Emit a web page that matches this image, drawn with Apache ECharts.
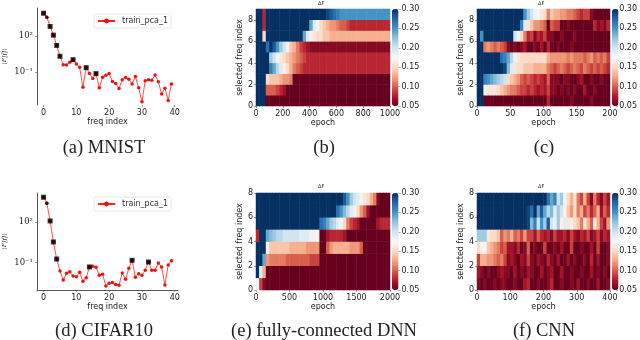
<!DOCTYPE html>
<html>
<head>
<meta charset="utf-8">
<style>
html,body{margin:0;padding:0;background:#fff}
#chart{width:640px;height:340px;filter:blur(0.5px)}
</style>
<script src="https://cdn.jsdelivr.net/npm/echarts@6/dist/echarts.min.js"></script>
</head>
<body>
<div id="chart"></div>
<script>
const freqIndex = [0,1,2,3,4,5,6,7,8,9,10,11,12,13,14,15,16,17,18,19,20,21,22,23,24,25,26,27,28,29,30,31,32,33,34,35,36,37,38,39];
const mnistValues = [7500,3500,600,114,16,2,0.4,0.38,0.63,1.05,0.46,0.243,0.0054,0.228,0.073,0.028,0.073,0.0048,0.036,0.053,0.073,0.016,0.011,0.0042,0.022,0.034,0.025,0.01,0.041,0.0048,0.00033,0.019,0.023,0.02,0.056,0.015,0.0015,0.0045,0.00043,0.01];
const cifarValues = [7240,2590,126,3.45,0.187,0.024,0.0051,0.016,0.021,0.0102,0.0091,0.019,0.0041,0.0077,0.048,0.053,0.045,0.0114,0.0136,0.00184,0.0029,0.0033,0.0024,0.0021,0.017,0.0058,0.038,0.149,0.0081,0.0152,0.0114,0.027,0.112,0.027,0.027,0.094,0.048,0.0022,0.067,0.141];
const mnistPeaks = [0,2,3,4,5,9,13,16];
const cifarPeaks = [0,2,3,4,14,27,32];
const darkPoints = [1];
const freqTicks = [0,10,20,30,40];
const logTicks = [0.1,100];

// heat values in hundredths, row 0 is the bottom row
const dnnB = [
[30,30,30,5,5,5,5,5,5,5,5,5,5,5,5,5,5,5,5,5,5,5,5,5,5,5,5,5,5,5,5,5,5,5,5,5,5,5,5,5],
[30,30,30,10,10,10,9,8,7,5,5,5,5,5,5,5,5,5,5,5,5,5,5,5,5,5,5,5,5,5,5,5,5,5,5,5,5,5,5,5],
[30,30,30,15,14,14,14,13,12,12,11,5,5,5,5,5,5,5,5,5,5,5,5,5,5,5,5,5,5,5,5,5,5,5,5,5,5,5,5,5],
[30,30,30,30,26,24,21,19,17,15,13,11,10,9,8,8,8,8,8,8,8,8,8,8,8,8,8,8,8,8,8,8,8,8,8,8,8,8,8,8],
[30,30,30,30,22,20,18,16,15,14,13,12,11,10,9,8,8,8,8,8,8,8,8,8,8,8,8,8,8,8,8,8,8,8,8,8,8,8,8,8],
[30,30,30,27,30,28,25,22,20,18,14,13,11,9,8,7,6,6,6,6,6,6,6,6,6,6,6,6,6,6,6,6,6,6,6,6,6,6,6,6],
[30,30,15,30,30,30,30,30,30,30,30,30,30,30,24,19,17,16,15,15,14,14,13,13,13,13,13,13,13,13,13,13,13,13,13,13,13,13,13,13],
[30,30,8,30,30,30,30,30,30,30,30,30,30,30,30,30,24,19,17,15,14,13,12,12,11,10,10,9,8,8,8,8,8,8,8,8,8,8,8,8],
[30,30,8,30,30,30,30,30,30,30,30,30,30,30,30,30,30,30,30,30,30,29,28,27,26,25,25,25,25,25,25,25,25,25,25,25,25,25,25,25]
];
const cnnC = [
[30,30,5,5,5,5,5,5,5,5,5,5,5,5,5,5,5,5,5,5,5,8,5,5,5,5,5,5,6,5,5,5,5,5,6,5,5,5,5,5],
[30,30,17,16,16,16,15,14,13,12,11,11,10,9,9,8,9,8,7,8,7,9,6,6,5,6,5,6,5,6,5,5,7,5,5,6,5,5,5,5],
[30,30,26,25,24,23,22,21,20,15,14,13,12,10,9,10,9,8,9,8,7,10,6,6,6,5,6,6,5,5,6,7,5,5,6,5,5,6,5,5],
[30,30,30,30,30,30,30,30,29,23,19,16,15,15,14,14,14,13,13,13,13,11,10,9,10,11,10,9,10,11,10,9,11,10,9,10,9,10,9,8],
[30,30,30,30,30,30,30,27,26,24,21,18,16,15,15,15,15,15,15,15,15,13,12,12,12,12,12,11,12,11,11,11,10,11,12,10,11,10,11,9],
[30,30,11,12,11,10,11,10,9,6,5,6,5,6,7,5,5,6,5,7,5,8,5,5,6,5,5,5,6,5,5,5,5,5,5,5,5,5,5,5],
[30,25,30,30,30,30,30,30,30,30,30,20,18,15,11,8,9,6,8,7,9,6,6,5,5,6,5,5,5,6,5,5,5,5,5,5,5,5,5,5],
[30,30,30,30,30,30,30,30,30,30,30,30,30,26,19,16,14,12,12,11,10,5,10,9,9,5,5,6,5,5,5,5,5,5,5,8,6,7,6,8],
[30,30,30,30,30,30,30,30,30,30,30,30,30,30,25,22,20,18,17,16,15,11,14,13,13,12,12,11,11,10,9,8,9,9,6,5,5,5,5,5]
];
const dnnE = [
[18,9,6,5,5,5,5,5,5,5,5,5,5,5,5,5,5,5,5,5,5,5,5,5,5,5,5,5,5,5,5,5,5,5,5,5,5,5,5,5],
[30,19,13,5,5,5,5,5,5,5,5,5,5,5,5,5,5,5,5,5,5,5,5,5,5,5,5,5,5,5,5,5,5,5,5,5,5,5,5,5],
[30,30,24,12,11,11,11,11,11,10,10,10,10,10,10,10,9,9,9,5,5,5,5,5,5,5,5,5,5,5,5,5,5,5,5,5,5,5,5,5],
[30,30,30,17,14,14,14,14,14,14,13,13,13,13,13,12,12,12,12,5,5,10,12,13,13,13,13,13,12,12,12,10,5,5,5,5,5,5,5,5],
[8,30,30,24,23,22,21,21,20,20,20,20,20,19,19,19,18,18,17,5,5,7,8,8,8,8,7,5,5,5,5,5,5,5,5,5,5,5,5,5],
[30,30,30,30,30,30,30,30,30,30,30,30,30,30,30,30,30,30,30,27,26,24,22,21,19,17,15,11,9,8,7,5,5,5,5,5,7,8,8,8],
[30,30,30,30,30,30,30,30,30,30,30,30,30,30,30,30,30,30,30,30,30,30,30,30,27,25,23,21,19,17,15,12,10,7,5,5,5,5,5,5],
[30,30,30,30,30,30,30,30,30,30,30,30,30,30,30,30,30,30,30,30,30,30,30,30,30,30,28,25,22,20,19,17,16,15,13,11,6,5,5,5]
];
const cnnF = [
[6,5,6,5,5,6,5,6,6,5,5,6,5,5,7,8,5,5,6,5,5,6,8,5,5,6,5,5,6,5,7,5,5,6,5,5,7,5,5,6],
[7,6,5,6,5,5,6,7,6,6,5,7,5,6,5,7,6,5,5,7,5,6,7,5,5,7,5,5,6,5,5,6,5,5,7,5,6,5,6,5],
[9,13,13,12,12,11,10,11,9,6,7,6,5,7,6,9,6,5,7,6,5,8,6,5,7,5,5,7,5,6,5,5,6,5,8,5,7,5,5,6],
[15,17,17,14,13,12,11,9,10,7,7,6,8,5,6,10,5,6,5,5,9,5,5,6,5,7,5,5,9,5,5,6,5,5,7,5,9,5,5,6],
[22,22,22,16,15,15,14,10,12,11,13,10,11,9,12,9,9,7,10,8,7,8,6,9,7,7,8,6,9,7,6,8,7,9,6,7,9,6,8,7],
[30,30,30,30,30,30,30,30,30,30,30,30,30,30,30,29,23,26,20,25,22,28,20,18,22,17,19,16,17,15,14,11,16,13,10,17,13,9,7,12],
[30,30,30,30,30,30,30,30,30,30,30,30,30,30,30,29,27,30,24,28,24,21,23,19,22,20,17,14,12,15,11,13,9,11,8,10,13,7,10,8],
[30,30,30,30,30,30,30,30,30,30,30,30,30,30,30,30,30,30,30,30,30,27,24,26,20,22,18,15,13,16,11,9,13,9,6,11,8,6,9,7]
];
const colorStops = ['#67001f','#b2182b','#d6604d','#f4a582','#fddbc7','#f7f7f7','#d1e5f0','#92c5de','#4393c3','#2166ac','#053061'];
const colorTicksMin = 0.05, colorTicksMax = 0.30, colorTicksStep = 0.05;
const captions = ['(a) MNIST','(b)','(c)','(d) CIFAR10','(e) fully-connected DNN','(f) CNN'];

const axisColor = '#555', textColor = '#222', sans = 'DejaVu Sans';
const heat = [
 {rows:dnnB, x0:256, x1:390, y0:9,  y1:106, maxE:1000, stepE:200, maxY:9, bar:392, tl:[322,1]},
 {rows:cnnC, x0:477, x1:610, y0:9,  y1:106, maxE:200,  stepE:50,  maxY:9, bar:612, tl:[542,1]},
 {rows:dnnE, x0:256, x1:390, y0:193,y1:290, maxE:2000, stepE:500, maxY:8, bar:392, tl:[322,184]},
 {rows:cnnF, x0:477, x1:610, y0:193,y1:290, maxE:400,  stepE:100, maxY:8, bar:612, tl:[542,184]}
];
const lines = [
 {vals:mnistValues, peaks:mnistPeaks, y0:8, y1:105, min:0.00018, max:20400, spine:false, leg:14},
 {vals:cifarValues, peaks:cifarPeaks, y0:193, y1:290, min:0.00093, max:14960, spine:true, leg:197}
];

const grid=[], xAxis=[], yAxis=[], series=[], visualMap=[], legend=[], title=[];
const tickStyle = {show:true, length:2, lineStyle:{color:axisColor, width:0.6}};
const lbl = {color:textColor, fontFamily:sans, fontSize:8, margin:4};
const nameStyle = {color:textColor, fontFamily:sans, fontSize:8};

lines.forEach(p=>{
  const g = grid.length;
  grid.push({left:36, width:142, top:p.y0, height:p.y1-p.y0, containLabel:false});
  xAxis.push({type:'value', gridIndex:g, min:-2, max:41, name:'freq index', nameLocation:'middle', nameGap:13, nameTextStyle:nameStyle,
    splitLine:{show:false}, axisLine:{show:p.spine, onZero:false, lineStyle:{color:axisColor, width:1}},
    axisTick:Object.assign({customValues:freqTicks}, tickStyle),
    axisLabel:Object.assign({customValues:freqTicks}, lbl)});
  yAxis.push({type:'log', logBase:10, gridIndex:g, min:p.min, max:p.max, name:'|F[f]|', nameLocation:'middle', nameGap:29,
    nameTextStyle:{color:textColor, fontFamily:'Liberation Serif', fontStyle:'italic', fontSize:7},
    splitLine:{show:false}, axisLine:{show:true, onZero:false, lineStyle:{color:axisColor, width:1}},
    axisTick:Object.assign({customValues:logTicks}, tickStyle),
    axisLabel:{customValues:logTicks, color:textColor, fontFamily:'DejaVu Serif', fontSize:8.5, margin:4,
      formatter:v=> v<1 ? '10\u207B\u00B9' : '10\u00B2'}});
  series.push({type:'line', name:'train_pca_1', xAxisIndex:g, yAxisIndex:g, data:freqIndex.map((f,i)=>[f,p.vals[i]]),
    symbol:'circle', symbolSize:3.5, lineStyle:{color:'#f22', width:0.8}, itemStyle:{color:'#f01010'}, silent:true, animation:false});
  series.push({type:'scatter', name:'peaks'+g, xAxisIndex:g, yAxisIndex:g, data:p.peaks.map(i=>[i,p.vals[i]]),
    symbol:'rect', symbolSize:5, itemStyle:{color:'#000'}, silent:true, animation:false, z:5});
  series.push({type:'scatter', name:'dark'+g, xAxisIndex:g, yAxisIndex:g, data:darkPoints.map(i=>[i,p.vals[i]]),
    symbol:'circle', symbolSize:3.5, itemStyle:{color:'#300'}, silent:true, animation:false, z:5});
  legend.push({left:94, top:p.leg, orient:'horizontal', padding:[3,3,3,3], itemWidth:17, itemHeight:6, itemGap:0,
    borderColor:'#ddd', borderWidth:0.7, borderRadius:2, data:['train_pca_1'], selectedMode:false,
    textStyle:{color:'#333', fontFamily:sans, fontSize:8, padding:[0,0,0,2]}});
});

heat.forEach(h=>{
  const g = grid.length;
  grid.push({left:h.x0, width:h.x1-h.x0, top:h.y0, height:h.y1-h.y0});
  const ci = xAxis.length;
  xAxis.push({type:'category', gridIndex:g, show:false, data:h.rows[0].map((_,i)=>i)});
  yAxis.push({type:'category', gridIndex:g, show:false, data:h.rows.map((_,i)=>i)});
  xAxis.push({type:'value', gridIndex:g, min:0, max:h.maxE, interval:h.stepE, name:'epoch', nameLocation:'middle', nameGap:13, nameTextStyle:nameStyle,
    splitLine:{show:false}, axisLine:{show:false, onZero:false}, axisTick:tickStyle,
    axisLabel:Object.assign({formatter:v=>String(v)}, lbl), position:'bottom'});
  const evenTicks = [0,2,4,6,8];
  yAxis.push({type:'value', gridIndex:g, min:0, max:h.maxY, interval:2, name:'selected freq index', nameLocation:'middle', nameGap:11, nameTextStyle:nameStyle,
    splitLine:{show:false}, axisLine:{show:false, onZero:false},
    axisTick:Object.assign({customValues:evenTicks}, tickStyle),
    axisLabel:Object.assign({customValues:evenTicks}, lbl, {margin:3}), position:'left'});
  const data=[];
  h.rows.forEach((r,ry)=>r.forEach((v,cx)=>data.push([cx,ry,v/100])));
  const si = series.length;
  series.push({type:'heatmap', xAxisIndex:ci, yAxisIndex:ci, data, silent:true, animation:false, progressive:0});
  visualMap.push({type:'continuous', seriesIndex:si, min:colorTicksMin, max:colorTicksMax, orient:'vertical', left:h.bar, top:h.y0,
    itemWidth:6.5, itemHeight:h.y1-h.y0, padding:0, calculable:false, hoverLink:false, inRange:{color:colorStops}});
  const gb = grid.length;
  grid.push({left:h.bar, width:6.5, top:h.y0, height:h.y1-h.y0});
  xAxis.push({type:'value', gridIndex:gb, show:false, min:0, max:1});
  yAxis.push({type:'value', gridIndex:gb, position:'right', min:colorTicksMin, max:colorTicksMax, interval:colorTicksStep,
    splitLine:{show:false}, axisLine:{show:false, onZero:false}, axisTick:{show:true,length:2,lineStyle:{color:axisColor,width:0.5}},
    axisLabel:{color:textColor, fontFamily:sans, fontSize:8, margin:3, formatter:v=>v.toFixed(2)}});
  title.push({text:'\u0394F', left:h.tl[0]-4, top:h.tl[1], padding:0, textStyle:{color:textColor, fontFamily:sans, fontSize:5, fontWeight:'normal'}});
});

[[104,139],[324,139],[544,139],[104,322],[324,322],[544,322]].forEach((pos,i)=>{
  title.push({text:captions[i], left:pos[0], top:pos[1], textAlign:'center', padding:0,
    textStyle:{color:'#222', fontFamily:'Liberation Serif', fontSize:18.5, fontWeight:'normal'}});
});

const chart = echarts.init(document.getElementById('chart'), null, {renderer:'canvas'});
chart.setOption({animation:false, backgroundColor:'#fff', grid, xAxis, yAxis, series, visualMap, legend, title, tooltip:{show:false}});
</script>
</body>
</html>
